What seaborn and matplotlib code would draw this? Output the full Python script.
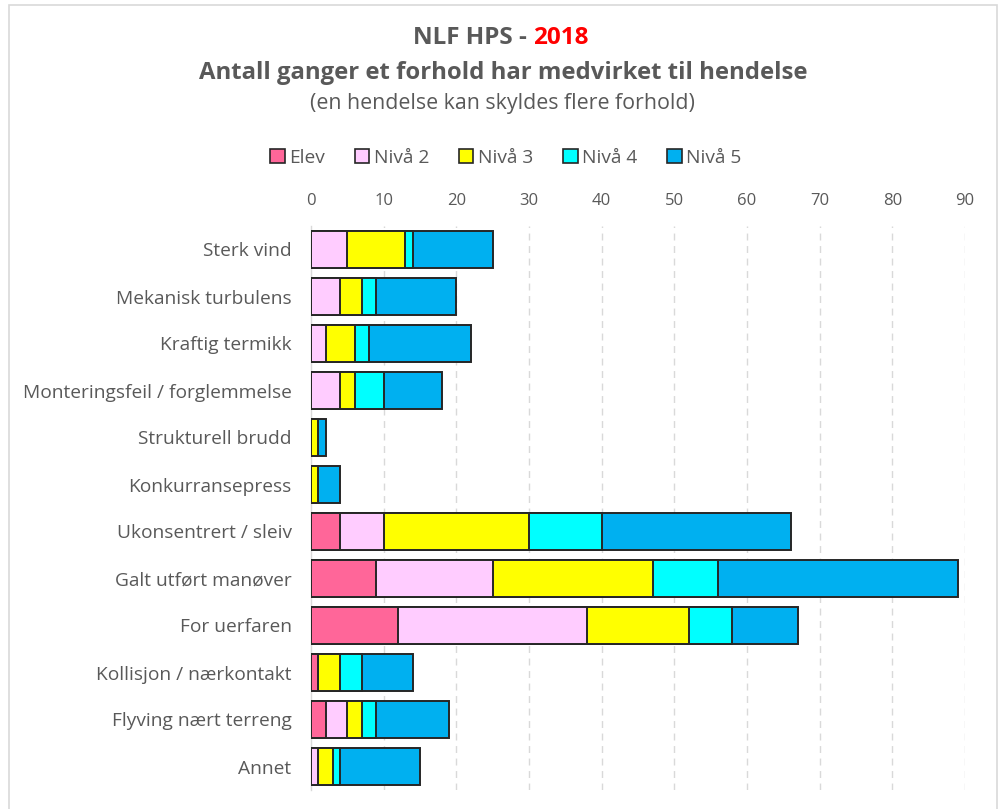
import matplotlib
matplotlib.use("Agg")
import matplotlib.pyplot as plt
import numpy as np
import pandas as pd
import seaborn as sns
from matplotlib.patches import Patch, Rectangle

# Contributing factors per incident, split by pilot level
categories = [
    "Sterk vind",
    "Mekanisk turbulens",
    "Kraftig termikk",
    "Monteringsfeil / forglemmelse",
    "Strukturell brudd",
    "Konkurransepress",
    "Ukonsentrert / sleiv",
    "Galt utført manøver",
    "For uerfaren",
    "Kollisjon / nærkontakt",
    "Flyving nært terreng",
    "Annet",
]
elev = [0, 0, 0, 0, 0, 0, 4, 9, 12, 1, 2, 0]
niva2 = [5, 4, 2, 4, 0, 0, 6, 16, 26, 0, 3, 1]
niva3 = [8, 3, 4, 2, 1, 1, 20, 22, 14, 3, 2, 2]
niva4 = [1, 2, 2, 4, 0, 0, 10, 9, 6, 3, 2, 1]
niva5 = [11, 11, 14, 8, 1, 3, 26, 33, 9, 7, 10, 11]

series_names = ["Elev", "Nivå 2", "Nivå 3", "Nivå 4", "Nivå 5"]
colors = ["#FF6699", "#FFCCFF", "#FFFF00", "#00FFFF", "#00B0F0"]
x_ticks = [0, 10, 20, 30, 40, 50, 60, 70, 80, 90]

TEXT = "#595959"
FONT = ["Open Sans", "DejaVu Sans"]

sns.set_theme(style="white")
plt.rcParams["font.family"] = FONT

df = pd.DataFrame(
    {"Kategori": categories, "Elev": elev, "Nivå 2": niva2,
     "Nivå 3": niva3, "Nivå 4": niva4, "Nivå 5": niva5}
)
cum = df[series_names].cumsum(axis=1)

fig = plt.figure(figsize=(10.06, 8.09), dpi=100)
ax = fig.add_axes([311 / 1006, 1 - 790 / 809, (965 - 311) / 1006, (790 - 226) / 809])

# vertical dashed grid behind the bars
for t in x_ticks[1:]:
    ax.axvline(t, color="#D9D9D9", lw=1.0, ls=(0, (5, 4)), zorder=0)

# stacked bars: draw running totals from the widest to the narrowest
for name, col in reversed(list(zip(series_names, colors))):
    sns.barplot(
        x=cum[name], y=df["Kategori"], orient="h", color=col, saturation=1,
        width=0.78, edgecolor="#262626", linewidth=1.4, ax=ax, zorder=2,
    )

ax.set_xlim(0, 90)
ax.set_ylim(len(categories) - 0.5, -0.5)
ax.set_xticks(x_ticks)
ax.xaxis.tick_top()
ax.tick_params(axis="x", length=0, pad=12, labelsize=12, labelcolor=TEXT)
ax.tick_params(axis="y", length=0, pad=14, labelsize=13.8, labelcolor=TEXT)
ax.set_xlabel("")
ax.set_ylabel("")
for s in ["top", "right", "bottom"]:
    ax.spines[s].set_visible(False)
ax.spines["left"].set_color("#D9D9D9")
ax.spines["left"].set_linewidth(1.0)
ax.spines["left"].set_zorder(1)

# chart frame
fig.patches.append(Rectangle((9 / 1006, -0.05), (997 - 9) / 1006, 1.05 - 5 / 809,
                             transform=fig.transFigure, fill=False,
                             edgecolor="#D9D9D9", lw=1.2))

# title, first line in two colours
renderer = fig.canvas.get_renderer()
t1 = fig.text(0, 1 - 38 / 809, "NLF HPS - ", fontsize=17.5, fontweight="bold",
              color=TEXT, va="center", ha="left")
t2 = fig.text(0, 1 - 38 / 809, "2018", fontsize=17.5, fontweight="bold",
              color="#FF0000", va="center", ha="left")
w1 = t1.get_window_extent(renderer).width / fig.bbox.width
w2 = t2.get_window_extent(renderer).width / fig.bbox.width
x0 = 501 / 1006 - (w1 + w2) / 2
t1.set_x(x0)
t2.set_x(x0 + w1)

fig.text(503 / 1006, 1 - 73 / 809, "Antall ganger et forhold har medvirket til hendelse",
         fontsize=17.2, fontweight="bold", color=TEXT, ha="center", va="center")
fig.text(502 / 1006, 1 - 103 / 809, "(en hendelse kan skyldes flere forhold)",
         fontsize=15.4, color=TEXT, ha="center", va="center")

handles = [Patch(facecolor=c, edgecolor="#262626", lw=1.2) for c in colors]
fig.legend(handles, series_names, loc="center", bbox_to_anchor=(506 / 1006, 1 - 158 / 809),
           ncol=5, frameon=False, fontsize=13.8, handlelength=0.75, handleheight=0.75,
           handletextpad=0.25, columnspacing=1.55, labelcolor=TEXT)

fig.savefig("out.png", dpi=100)
